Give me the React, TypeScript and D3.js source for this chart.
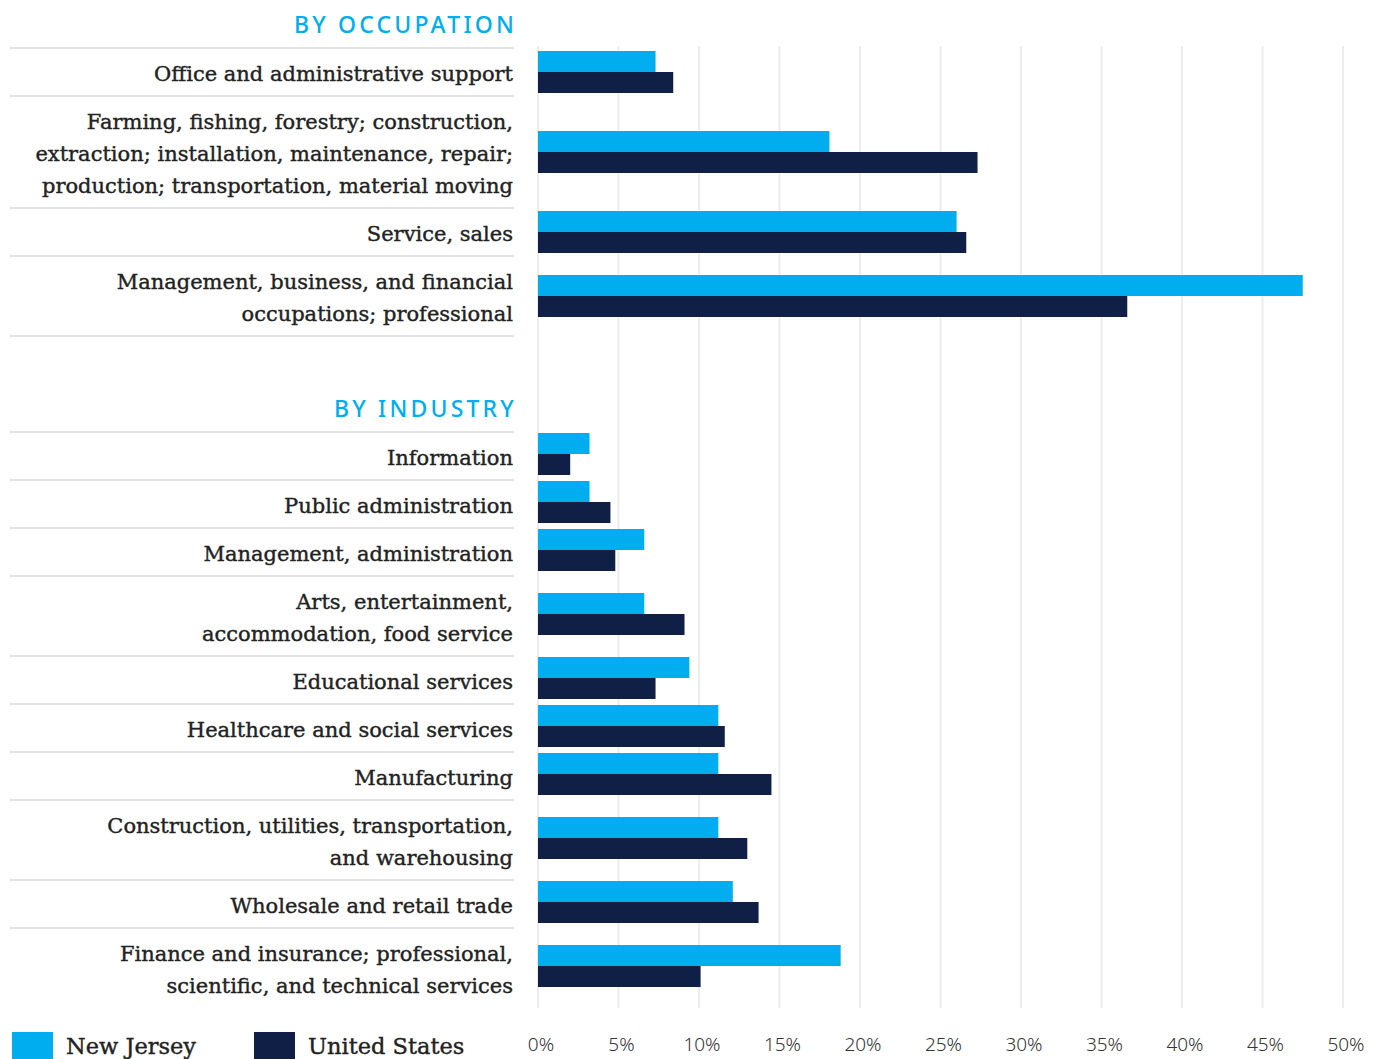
import React from "react";
import * as d3 from "d3";

const occupationLabels: string[][] = [
  ["Office and administrative support"],
  ["Farming, fishing, forestry; construction,", "extraction; installation, maintenance, repair;", "production; transportation, material moving"],
  ["Service, sales"],
  ["Management, business, and financial", "occupations; professional"],
];
const occupationNJ = [7.3, 18.1, 26.0, 47.5];
const occupationUS = [8.4, 27.3, 26.6, 36.6];

const industryLabels: string[][] = [
  ["Information"],
  ["Public administration"],
  ["Management, administration"],
  ["Arts, entertainment,", "accommodation, food service"],
  ["Educational services"],
  ["Healthcare and social services"],
  ["Manufacturing"],
  ["Construction, utilities, transportation,", "and warehousing"],
  ["Wholesale and retail trade"],
  ["Finance and insurance; professional,", "scientific, and technical services"],
];
const industryNJ = [3.2, 3.2, 6.6, 6.6, 9.4, 11.2, 11.2, 11.2, 12.1, 18.8];
const industryUS = [2.0, 4.5, 4.8, 9.1, 7.3, 11.6, 14.5, 13.0, 13.7, 10.1];

const xTicks = [0, 5, 10, 15, 20, 25, 30, 35, 40, 45, 50];
const seriesNames = ["New Jersey", "United States"];
const seriesColors = ["#00AEEF", "#0F1F45"];

const W = 1381;
const H = 1059;
const labelRight = 514;
const lineLeft = 10;
const barH = 21;
const serif = "'DejaVu Serif', serif";
const sans = "'Noto Sans', sans-serif";

type Row = { lines: string[]; nj: number; us: number; top: number; h: number };

function layout(labels: string[][], nj: number[], us: number[], start: number): Row[] {
  let y = start;
  return labels.map((lines, i) => {
    const h = 16 + 32 * lines.length;
    const r = { lines, nj: nj[i], us: us[i], top: y, h };
    y += h;
    return r;
  });
}

export default function App() {
  const x = d3.scaleLinear().domain([0, 50]).range([538, 1343]);
  const occRows = layout(occupationLabels, occupationNJ, occupationUS, 48);
  const indRows = layout(industryLabels, industryNJ, industryUS, 432);

  const renderSection = (rows: Row[], bottomLine: boolean, key: string, shift: number) => (
    <g key={key}>
      {rows.map((r, i) => {
        const c = r.top + r.h / 2;
        const first = c - (r.lines.length - 1) * 16 + 9;
        const barTop = c + shift - barH;
        return (
          <g key={i}>
            <line x1={lineLeft} x2={labelRight} y1={r.top} y2={r.top} stroke="#e3e3e3" strokeWidth={2} />
            {r.lines.map((t, j) => (
              <text key={j} x={labelRight - 1} y={first + j * 32} textAnchor="end" fontFamily={serif} fontSize={21} fill="#222" stroke="#222" strokeWidth={0.4}>
                {t}
              </text>
            ))}
            <rect x={x(0)} y={barTop} width={x(r.nj) - x(0)} height={barH} fill={seriesColors[0]} />
            <rect x={x(0)} y={barTop + barH} width={x(r.us) - x(0)} height={barH} fill={seriesColors[1]} />
          </g>
        );
      })}
      {bottomLine && (() => {
        const last = rows[rows.length - 1];
        const yb = last.top + last.h;
        return <line x1={lineLeft} x2={labelRight} y1={yb} y2={yb} stroke="#e3e3e3" strokeWidth={2} />;
      })()}
    </g>
  );

  return (
    <svg width={W} height={H} style={{ position: "absolute", left: 0, top: 0, background: "#fff" }}>
      <rect width={W} height={H} fill="#fff" />
      {xTicks.map((t) => (
        <line key={t} x1={x(t)} x2={x(t)} y1={46} y2={1008} stroke="#ededed" strokeWidth={2} />
      ))}
      <text x={labelRight + 3} y={33} textAnchor="end" fontFamily={sans} fontWeight={500} fontSize={23} letterSpacing={3.2} fill="#00AEEF">
        BY OCCUPATION
      </text>
      <text x={labelRight + 3} y={417} textAnchor="end" fontFamily={sans} fontWeight={500} fontSize={23} letterSpacing={3.2} fill="#00AEEF">
        BY INDUSTRY
      </text>
      {renderSection(occRows, true, "occ", 0)}
      {renderSection(indRows, false, "ind", -2)}
      {xTicks.map((t) => (
        <text key={t} x={x(t) + 3} y={1051} textAnchor="middle" fontFamily={sans} fontWeight={300} fontSize={19} fill="#333">
          {`${t}%`}
        </text>
      ))}
      {seriesNames.map((n, i) => {
        const lx = i === 0 ? 12 : 254;
        return (
          <g key={n}>
            <rect x={lx} y={1032} width={41} height={30} fill={seriesColors[i]} />
            <text x={lx + 54} y={1054} fontFamily={serif} fontSize={22.5} fill="#222" stroke="#222" strokeWidth={0.4}>
              {n}
            </text>
          </g>
        );
      })}
    </svg>
  );
}
